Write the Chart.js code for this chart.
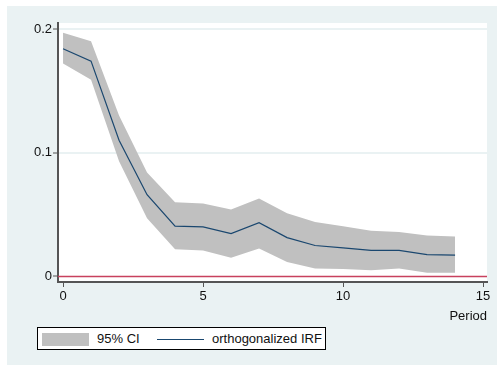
<!DOCTYPE html>
<html>
<head>
<meta charset="utf-8">
<script src="https://cdn.jsdelivr.net/npm/chart.js@4/dist/chart.umd.min.js"></script>
<style>
    body { margin: 0; background: #fff; }
    #wrap { position: relative; width: 497px; height: 365px; }
    #legend {
        position: absolute; left: 37px; top: 327px; width: 287px; height: 21px;
        border: 1px solid #000; background: #fff;
        font: 13px "Liberation Sans", Arial, sans-serif; color: #111;
    }
    #legend .sw { position: absolute; }
    #legend .lb { position: absolute; top: 3px; white-space: nowrap; }
</style>
</head>
<body>
<div id="wrap">
    <canvas id="irfChart" width="497" height="365"></canvas>
    <div id="legend">
        <div class="sw" style="left:4px;top:5px;width:47px;height:13px;background:#c0c0c0"></div>
        <div class="lb" style="left:59px">95% CI</div>
        <div class="sw" style="left:119px;top:11px;width:47px;height:1px;background:#1a476f"></div>
        <div class="lb" style="left:174px">orthogonalized IRF</div>
    </div>
</div>
<script>
const periods = [0, 1, 2, 3, 4, 5, 6, 7, 8, 9, 10, 11, 12, 13, 14];
const irf = [0.184, 0.174, 0.110, 0.066, 0.0406, 0.040, 0.0346, 0.0435, 0.0314, 0.025, 0.023, 0.021, 0.021, 0.0177, 0.0172];
const upperCI = [0.197, 0.190, 0.130, 0.084, 0.060, 0.059, 0.054, 0.063, 0.051, 0.044, 0.0406, 0.037, 0.036, 0.033, 0.0323];
const lowerCI = [0.172, 0.159, 0.093, 0.047, 0.022, 0.021, 0.015, 0.0226, 0.0116, 0.0065, 0.006, 0.005, 0.0065, 0.003, 0.003];
const xTicks = [0, 5, 10, 15];
const yTicks = [0, 0.1, 0.2];

const toPoints = vals => periods.map((p, i) => ({ x: p, y: vals[i] }));

const backgroundPlugin = {
    id: 'stataBackground',
    beforeDraw(chart) {
        const ctx = chart.ctx;
        const a = chart.chartArea;
        ctx.save();
        ctx.fillStyle = '#eaf2f3';
        ctx.fillRect(7, 6, 490, 359);
        ctx.fillStyle = '#ffffff';
        ctx.fillRect(a.left, a.top, a.right - a.left, a.bottom - a.top);
        ctx.restore();
    },
    beforeDatasetsDraw(chart) {
        // reference line at zero
        const ctx = chart.ctx;
        const a = chart.chartArea;
        const y = chart.scales.y.getPixelForValue(0);
        ctx.save();
        ctx.strokeStyle = '#c8415e';
        ctx.lineWidth = 1.5;
        ctx.beginPath();
        ctx.moveTo(a.left, y);
        ctx.lineTo(a.right, y);
        ctx.stroke();
        ctx.restore();
    }
};

const ctx = document.getElementById('irfChart').getContext('2d');
new Chart(ctx, {
    type: 'line',
    data: {
        datasets: [
            {
                label: '95% CI upper',
                data: toPoints(upperCI),
                borderWidth: 0,
                pointRadius: 0,
                backgroundColor: '#c0c0c0',
                fill: '+1',
                order: 1
            },
            {
                label: '95% CI lower',
                data: toPoints(lowerCI),
                borderWidth: 0,
                pointRadius: 0,
                fill: false,
                order: 1
            },
            {
                label: 'orthogonalized IRF',
                data: toPoints(irf),
                borderColor: '#1a476f',
                borderWidth: 1.2,
                pointRadius: 0,
                fill: false,
                order: 0
            }
        ]
    },
    options: {
        responsive: false,
        animation: false,
        events: [],
        layout: { padding: { top: 23, right: 10, bottom: 41, left: 0 } },
        plugins: {
            legend: { display: false },
            tooltip: { enabled: false }
        },
        scales: {
            x: {
                type: 'linear',
                min: -0.18,
                max: 15.14,
                afterBuildTicks: scale => { scale.ticks = xTicks.map(v => ({ value: v })); },
                afterFit: scale => { scale.height = 42; },
                border: { display: true, color: '#555', width: 2 },
                grid: { drawOnChartArea: false, tickLength: 5, tickColor: '#555', tickWidth: 1 },
                ticks: {
                    padding: 2,
                    maxRotation: 0,
                    color: '#111',
                    font: { family: 'Liberation Sans', size: 13 }
                },
                title: {
                    display: true,
                    text: 'Period',
                    align: 'end',
                    padding: 0,
                    color: '#111',
                    font: { family: 'Liberation Sans', size: 13 }
                }
            },
            y: {
                min: -0.0045,
                max: 0.2048,
                afterBuildTicks: scale => { scale.ticks = yTicks.map(v => ({ value: v })); },
                afterFit: scale => { scale.width = 58; },
                border: { display: true, color: '#555', width: 2 },
                grid: {
                    color: c => c.tick && c.tick.value === 0 ? 'rgba(0,0,0,0)' : '#eaf2f3',
                    lineWidth: 2,
                    tickLength: 5,
                    tickColor: '#555',
                    tickWidth: 1
                },
                ticks: {
                    padding: 1,
                    color: '#111',
                    font: { family: 'Liberation Sans', size: 13 },
                    callback: v => String(Math.round(v * 10) / 10)
                }
            }
        }
    },
    plugins: [backgroundPlugin]
});
</script>
</body>
</html>
